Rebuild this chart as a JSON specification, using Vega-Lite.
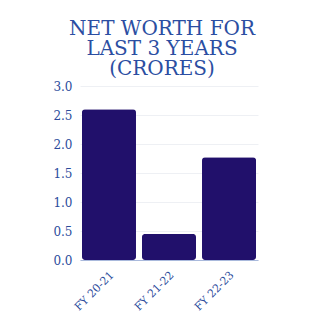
{
  "$schema": "https://vega.github.io/schema/vega-lite/v6.json",
  "autosize": "none",
  "width": 178,
  "height": 174,
  "padding": {"left": 80, "top": 86, "right": 66, "bottom": 63},
  "background": "white",
  "title": {
    "text": ["NET WORTH FOR", "LAST 3 YEARS", "(CRORES)"],
    "font": "DejaVu Serif",
    "fontSize": 20,
    "fontWeight": "normal",
    "lineHeight": 20,
    "color": "#2b4ea2",
    "anchor": "middle",
    "frame": "group",
    "offset": 1,
    "dx": -7
  },
  "data": {
    "values": [
      {"year": "FY 20-21", "worth": 2.6},
      {"year": "FY 21-22", "worth": 0.45},
      {"year": "FY 22-23", "worth": 1.77}
    ]
  },
  "mark": {"type": "bar", "color": "#21106b", "cornerRadius": 3},
  "encoding": {
    "x": {
      "field": "year",
      "type": "nominal",
      "sort": null,
      "scale": {"paddingInner": 0.1, "paddingOuter": 0.033},
      "axis": {
        "title": null,
        "labelAngle": -45,
        "labelFont": "DejaVu Serif",
        "labelFontSize": 11,
        "labelColor": "#2a4b9b",
        "ticks": false,
        "labelPadding": 9,
        "labelOffset": -1,
        "domainColor": "#a9b9dc",
        "domainWidth": 1,
        "grid": false
      }
    },
    "y": {
      "field": "worth",
      "type": "quantitative",
      "scale": {"domain": [0, 3]},
      "axis": {
        "title": null,
        "values": [0, 0.5, 1, 1.5, 2, 2.5, 3],
        "format": ".1f",
        "labelFont": "DejaVu Serif",
        "labelFontSize": 12,
        "labelColor": "#2a4b9b",
        "ticks": false,
        "domain": false,
        "labelPadding": 8,
        "gridColor": "#eef0f4",
        "gridWidth": 1
      }
    }
  },
  "config": {"view": {"stroke": null}}
}
